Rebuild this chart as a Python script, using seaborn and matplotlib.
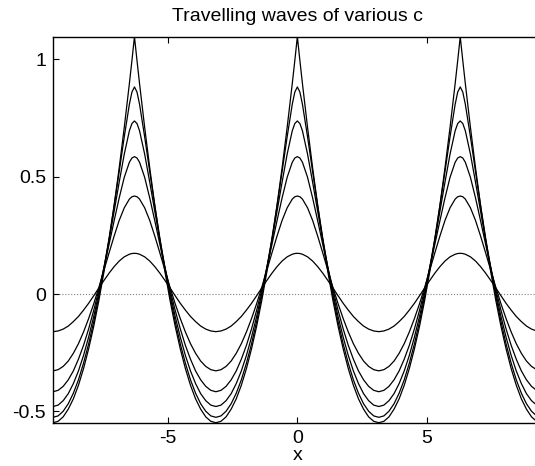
import pandas as pd
import matplotlib
matplotlib.use("Agg")
import matplotlib.pyplot as plt
import seaborn as sns

# Half a period of each travelling wave.
# OFFSET is the distance from a crest; the waves are 2*pi periodic and
# symmetric about every crest, so this half period is enough.
OFFSET = [0.0, 0.0982, 0.1963, 0.3927, 0.5890, 0.7854, 0.9817, 1.1781, 1.3744,
          1.5708, 1.7671, 1.9635, 2.1598, 2.3562, 2.5525, 2.7489, 2.9452, 3.1416]
CREST_X = [-6.2832, 0.0, 6.2832]

WAVE_1 = [1.097, 0.995, 0.897, 0.711, 0.538, 0.377, 0.229, 0.094, -0.028,
          -0.137, -0.233, -0.317, -0.388, -0.446, -0.490, -0.523, -0.542, -0.548]
WAVE_2 = [0.883, 0.861, 0.809, 0.671, 0.522, 0.376, 0.237, 0.108, -0.010,
          -0.117, -0.212, -0.294, -0.365, -0.422, -0.467, -0.499, -0.519, -0.525]
WAVE_3 = [0.738, 0.727, 0.696, 0.597, 0.477, 0.352, 0.229, 0.113, 0.004,
          -0.095, -0.183, -0.261, -0.327, -0.381, -0.424, -0.454, -0.473, -0.479]
WAVE_4 = [0.586, 0.580, 0.562, 0.498, 0.410, 0.312, 0.211, 0.112, 0.018,
          -0.069, -0.148, -0.218, -0.277, -0.327, -0.365, -0.393, -0.410, -0.416]
WAVE_5 = [0.418, 0.415, 0.405, 0.368, 0.314, 0.247, 0.175, 0.101, 0.028,
          -0.041, -0.104, -0.161, -0.211, -0.252, -0.285, -0.308, -0.322, -0.327]
WAVE_6 = [0.174, 0.173, 0.170, 0.159, 0.141, 0.117, 0.089, 0.058, 0.026,
          -0.007, -0.039, -0.068, -0.095, -0.117, -0.136, -0.149, -0.157, -0.160]
WAVES = [WAVE_1, WAVE_2, WAVE_3, WAVE_4, WAVE_5, WAVE_6]

X_TICKS = [-5, 0, 5]
Y_TICKS = [-0.5, 0, 0.5, 1]
Y_TICK_LABELS = ["-0.5", "0", "0.5", "1"]


def build_frame():
    rows = []
    for i, wave in enumerate(WAVES):
        for crest in CREST_X:
            left = [(crest - s, u) for s, u in zip(OFFSET[::-1], wave[::-1])]
            right = [(crest + s, u) for s, u in zip(OFFSET[1:], wave[1:])]
            for x, u in left + right:
                rows.append({"wave": i, "x": x, "u": u})
    return pd.DataFrame(rows)


df = build_frame()

plt.rcParams.update({
    "font.family": ["Liberation Sans", "DejaVu Sans"],
    "font.size": 14,
    "axes.unicode_minus": False,
    "axes.linewidth": 1.0,
})

fig = plt.figure(figsize=(5.35, 4.66), dpi=100)
ax = fig.add_axes([0.0991, 0.0929, 0.9134, 0.8283])

ax.axhline(0, color="#808080", linestyle=":", linewidth=0.8, zorder=1)
sns.lineplot(data=df, x="x", y="u", hue="wave", units="wave", estimator=None,
             sort=False, palette=["black"] * len(WAVES), legend=False,
             linewidth=0.9, ax=ax)

ax.set_xlim(df["x"].min(), df["x"].max())
ax.set_ylim(df["u"].min(), df["u"].max())
ax.set_xticks(X_TICKS)
ax.set_xticklabels([str(t) for t in X_TICKS])
ax.set_yticks(Y_TICKS)
ax.set_yticklabels(Y_TICK_LABELS)
ax.tick_params(direction="in", top=True, right=True, length=4, width=0.8, pad=5)
for sp in ax.spines.values():
    sp.set_color("black")

ax.set_xlabel("x", labelpad=0.5)
ax.set_ylabel("")
ax.set_title("Travelling waves of various c", fontsize=14, pad=11)

fig.savefig("out.png", dpi=100)
plt.close(fig)
